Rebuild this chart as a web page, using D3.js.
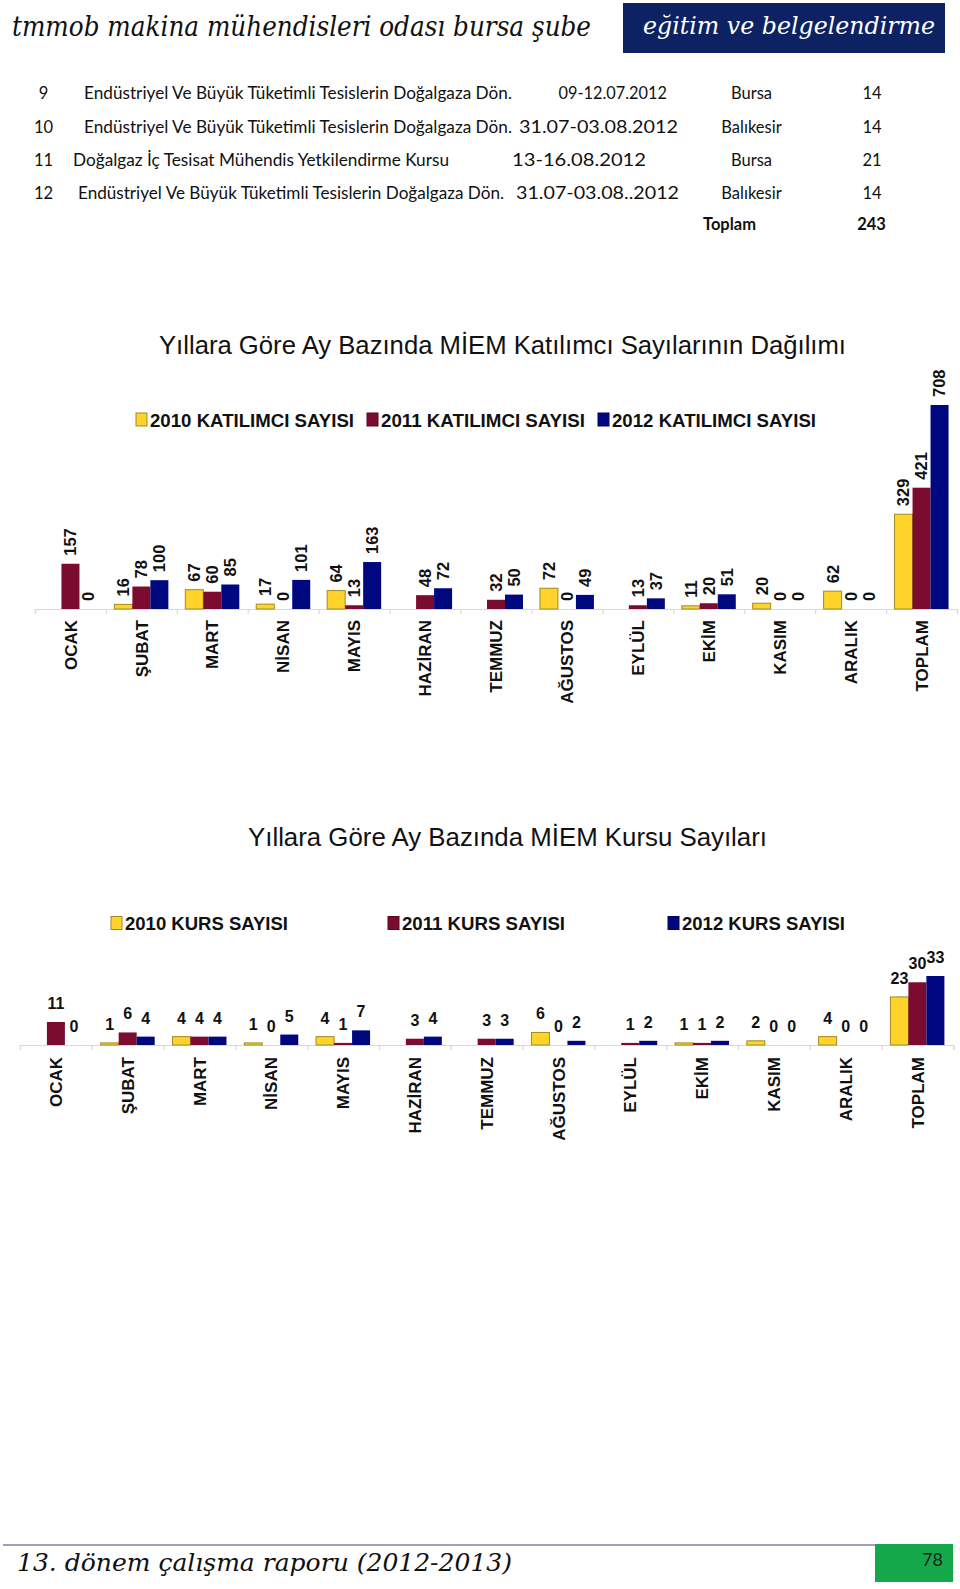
<!DOCTYPE html>
<html><head><meta charset="utf-8">
<script src="https://cdn.jsdelivr.net/npm/d3@7"></script>
<style>
html,body{margin:0;padding:0;background:#fff;}
svg{display:block;}
</style></head>
<body>
<svg id="page" width="960" height="1589"></svg>
<script>
// ---------- DATA ----------
const headerLeft = "tmmob makina mühendisleri odası bursa şube";
const headerRight = "eğitim ve belgelendirme";
const footerText = "13. dönem çalışma raporu (2012-2013)";
const pageNumber = "78";

const rowNo = ["9", "10", "11", "12"];
const courseNames = [
  "Endüstriyel Ve Büyük Tüketimli Tesislerin Doğalgaza Dön.",
  "Endüstriyel Ve Büyük Tüketimli Tesislerin Doğalgaza Dön.",
  "Doğalgaz İç Tesisat Mühendis Yetkilendirme Kursu",
  "Endüstriyel Ve Büyük Tüketimli Tesislerin Doğalgaza Dön."
];
const courseDates = ["09-12.07.2012", "31.07-03.08.2012", "13-16.08.2012", "31.07-03.08..2012"];
const courseCities = ["Bursa", "Balıkesir", "Bursa", "Balıkesir"];
const courseCounts = [14, 14, 21, 14];
const totalLabel = "Toplam";
const totalCount = 243;

const months = ["OCAK", "ŞUBAT", "MART", "NİSAN", "MAYIS", "HAZİRAN", "TEMMUZ", "AĞUSTOS", "EYLÜL", "EKİM", "KASIM", "ARALIK", "TOPLAM"];

const chart1Title = "Yıllara Göre Ay Bazında MİEM Katılımcı Sayılarının Dağılımı";
const chart1Series = ["2010 KATILIMCI SAYISI", "2011 KATILIMCI SAYISI", "2012 KATILIMCI SAYISI"];
const katilimci2010 = [null, 16, 67, 17, 64, null, null, 72, null, 11, 20, 62, 329];
const katilimci2011 = [157, 78, 60, 0, 13, 48, 32, 0, 13, 20, 0, 0, 421];
const katilimci2012 = [0, 100, 85, 101, 163, 72, 50, 49, 37, 51, 0, 0, 708];

const chart2Title = "Yıllara Göre Ay Bazında MİEM Kursu Sayıları";
const chart2Series = ["2010 KURS SAYISI", "2011 KURS SAYISI", "2012 KURS SAYISI"];
const kurs2010 = [null, 1, 4, 1, 4, null, null, 6, null, 1, 2, 4, 23];
const kurs2011 = [11, 6, 4, 0, 1, 3, 3, 0, 1, 1, 0, 0, 30];
const kurs2012 = [0, 4, 4, 5, 7, 4, 3, 2, 2, 2, 0, 0, 33];

// ---------- STYLE / LAYOUT ----------
const colors = ["#FFD32A", "#7B0C2F", "#00087F"];
const strokes = ["#A08A28", "#5a0820", "#000560"];
const svg = d3.select("#page");
const sans = "'Liberation Sans', Arial, sans-serif";
const script = "'DejaVu Serif', serif";
const bodyFont = "Lato, 'Open Sans', sans-serif";

// Header
svg.append("text").attr("x", 12).attr("y", 36)
  .attr("font-family", script).attr("font-style", "italic").attr("font-size", 27)
  .attr("textLength", 579).attr("lengthAdjust", "spacingAndGlyphs")
  .attr("fill", "#111").text(headerLeft);
svg.append("rect").attr("x", 623).attr("y", 3).attr("width", 322).attr("height", 50).attr("fill", "#0C2262");
svg.append("text").attr("x", 643).attr("y", 34)
  .attr("font-family", script).attr("font-style", "italic").attr("font-size", 25)
  .attr("textLength", 292).attr("lengthAdjust", "spacingAndGlyphs")
  .attr("fill", "#fff").text(headerRight);

// Table
const rowY = [99, 132.5, 166, 198.5];
const descX = [84, 84, 73, 78], descW = [428, 428, 376, 426];
const dateX = [558.5, 519, 512, 516], dateW = [108.5, 159, 134, 163];
const tbl = svg.append("g").attr("font-family", bodyFont).attr("font-size", 16.5).attr("fill", "#111");
rowNo.forEach((n, i) => {
  tbl.append("text").attr("x", 43.5).attr("y", rowY[i]).attr("text-anchor", "middle").text(n);
  tbl.append("text").attr("x", descX[i]).attr("y", rowY[i]).attr("textLength", descW[i]).attr("lengthAdjust", "spacingAndGlyphs").text(courseNames[i]);
  tbl.append("text").attr("x", dateX[i]).attr("y", rowY[i]).attr("textLength", dateW[i]).attr("lengthAdjust", "spacingAndGlyphs").text(courseDates[i]);
  tbl.append("text").attr("x", 751.5).attr("y", rowY[i]).attr("text-anchor", "middle").text(courseCities[i]);
  tbl.append("text").attr("x", 872).attr("y", rowY[i]).attr("text-anchor", "middle").text(courseCounts[i]);
});
tbl.append("text").attr("x", 729.5).attr("y", 230).attr("text-anchor", "middle").attr("font-weight", "bold").text(totalLabel);
tbl.append("text").attr("x", 871.5).attr("y", 230).attr("text-anchor", "middle").attr("font-weight", "bold").text(totalCount);

// Chart builder
function drawChart(cfg) {
  const g = svg.append("g");
  // title
  g.append("text").attr("x", cfg.titleX).attr("y", cfg.titleY)
    .attr("font-family", sans).attr("font-size", 26).attr("fill", "#111")
    .attr("textLength", cfg.titleW).attr("lengthAdjust", "spacingAndGlyphs")
    .text(cfg.title);
  // legend
  cfg.series.forEach((s, i) => {
    g.append("rect").attr("x", cfg.legendX[i]).attr("y", cfg.legendY - 7)
      .attr("width", 11).attr("height", 13).attr("fill", colors[i])
      .attr("stroke", strokes[i]).attr("stroke-width", 1);
    g.append("text").attr("x", cfg.legendX[i] + 14).attr("y", cfg.legendY + 6.5)
      .attr("font-family", sans).attr("font-weight", "bold").attr("font-size", 18.5)
      .attr("textLength", cfg.legendW).attr("lengthAdjust", "spacingAndGlyphs")
      .attr("fill", "#111").text(s);
  });

  const x = d3.scaleBand().domain(months).range(cfg.xRange).padding(0);
  const bw = x.bandwidth();
  const xs = d3.scaleBand().domain([0, 1, 2]).range([(bw - 54) / 2, (bw + 54) / 2]).padding(0);
  const y = d3.scaleLinear().domain(cfg.yDomain).range(cfg.yRange);
  const base = cfg.yRange[0];

  // axis line and ticks
  const axis = d3.axisBottom(d3.scaleLinear().domain([0, months.length]).range(cfg.xRange))
    .tickValues(d3.range(months.length + 1)).tickSize(5).tickFormat("");
  const ag = g.append("g").attr("transform", `translate(0,${base})`).call(axis);
  ag.selectAll("path,line").attr("stroke", "#d9d9d9").attr("stroke-width", 1.2);

  const data = [];
  months.forEach((m, mi) => cfg.values.forEach((arr, si) => {
    if (arr[mi] !== null) data.push({ m, si, v: arr[mi] });
  }));

  g.selectAll("rect.bar").data(data.filter(d => d.v > 0)).join("rect").attr("class", "bar")
    .attr("x", d => x(d.m) + xs(d.si)).attr("width", xs.bandwidth())
    .attr("y", d => y(d.v)).attr("height", d => base - y(d.v))
    .attr("fill", d => colors[d.si])
    .attr("stroke", d => d.si === 0 ? strokes[0] : "none").attr("stroke-width", 1);

  if (cfg.rotatedLabels) {
    g.selectAll("text.val").data(data).join("text").attr("class", "val")
      .attr("transform", d => `translate(${x(d.m) + xs(d.si) + xs.bandwidth() / 2},${y(d.v) - 8}) rotate(-90)`)
      .attr("dy", "0.36em")
      .attr("font-family", sans).attr("font-weight", "bold").attr("font-size", 16.5).attr("fill", "#111")
      .text(d => d.v);
  } else {
    g.selectAll("text.val").data(data).join("text").attr("class", "val")
      .attr("x", d => x(d.m) + xs(d.si) + xs.bandwidth() / 2)
      .attr("y", d => y(d.v) - 13)
      .attr("text-anchor", "middle")
      .attr("font-family", sans).attr("font-weight", "bold").attr("font-size", 16).attr("fill", "#111")
      .text(d => d.v);
  }

  g.selectAll("text.cat").data(months).join("text").attr("class", "cat")
    .attr("transform", d => `translate(${x(d) + bw / 2},${base + cfg.catOffset}) rotate(-90)`)
    .attr("dy", "0.36em").attr("text-anchor", "end")
    .attr("font-family", sans).attr("font-weight", "bold").attr("font-size", 17).attr("fill", "#111")
    .text(d => d);
}

drawChart({
  title: chart1Title, titleX: 159, titleY: 354, titleW: 687,
  series: chart1Series, legendX: [136, 367, 598], legendY: 420, legendW: 204,
  values: [katilimci2010, katilimci2011, katilimci2012],
  xRange: [35, 957], yDomain: [0, 708], yRange: [609, 405],
  rotatedLabels: true, catOffset: 11
});

drawChart({
  title: chart2Title, titleX: 248, titleY: 846, titleW: 519,
  series: chart2Series, legendX: [111, 388, 668], legendY: 923.5, legendW: 163,
  values: [kurs2010, kurs2011, kurs2012],
  xRange: [20, 953.3], yDomain: [0, 33], yRange: [1045, 976],
  rotatedLabels: false, catOffset: 12
});

// Footer
svg.append("line").attr("x1", 3).attr("x2", 875).attr("y1", 1545).attr("y2", 1545)
  .attr("stroke", "#A29FB3").attr("stroke-width", 2);
svg.append("rect").attr("x", 875).attr("y", 1544).attr("width", 78).attr("height", 38).attr("fill", "#14A84A");
svg.append("text").attr("x", 943).attr("y", 1565.5).attr("text-anchor", "end")
  .attr("font-family", bodyFont).attr("font-size", 18).attr("fill", "#222").text(pageNumber);
svg.append("text").attr("x", 17).attr("y", 1571)
  .attr("font-family", script).attr("font-style", "italic").attr("font-size", 24)
  .attr("textLength", 495).attr("lengthAdjust", "spacingAndGlyphs")
  .attr("fill", "#111").text(footerText);
</script>
</body></html>
